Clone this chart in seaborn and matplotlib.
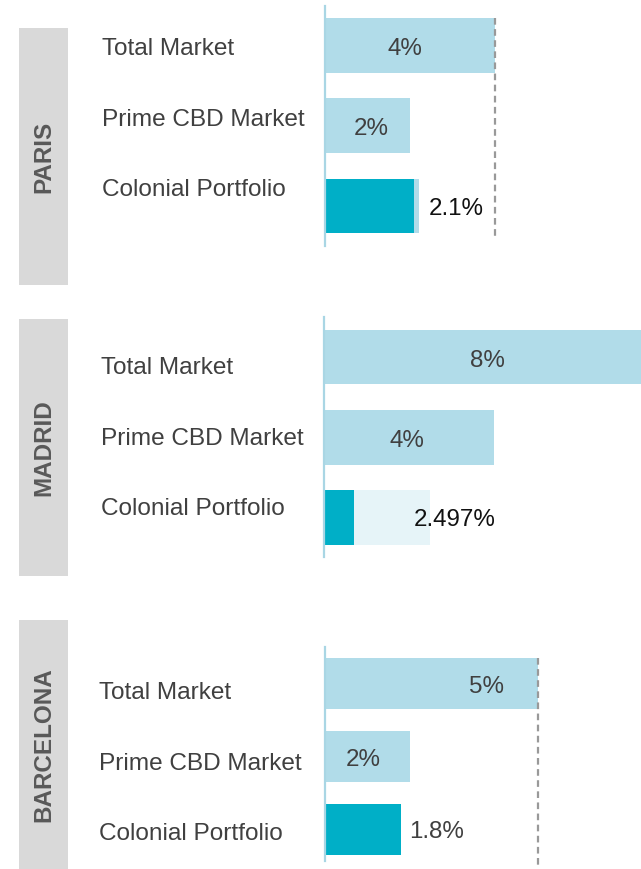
import matplotlib
matplotlib.use("Agg")
import matplotlib.pyplot as plt
from matplotlib.patches import Rectangle
import pandas as pd
import seaborn as sns

# ---- data -------------------------------------------------------------
cities = ["PARIS", "MADRID", "BARCELONA"]
segments = ["Total Market", "Prime CBD Market", "Colonial Portfolio"]

total_market = [4, 8, 5]              # vacancy, %
prime_cbd = [2, 4, 2]                 # vacancy, %
colonial = [2.1, 0.7, 1.8]            # solid Colonial bar, %
colonial_range = [2.2, 2.497, 0.0]    # pale bar behind the Colonial bar, %
colonial_label = [2.1, 2.497, 1.8]
colonial_fmt = ["{:.1f}%", "{:.3f}%", "{:.1f}%"]

# ---- style ------------------------------------------------------------
sns.set_theme(style="white")
plt.rcParams["font.family"] = ["Liberation Sans", "DejaVu Sans"]

LIGHT = "#b1dce9"
DARK = "#00afc7"
AXIS = "#a9d6e4"
BAND = "#d9d9d9"
TXT = "#404040"

W, H = 641, 869
SCALE = 42.5      # pixels per percentage point
FS_SEG = 17.6
FS_VAL = 17.4
FS_CITY = 17.5

fig = plt.figure(figsize=(W / 100, H / 100), dpi=100)
fig.patch.set_facecolor("white")

panels = [
    dict(band=(28, 285), ax=(325, 6, 246), centers=(45.5, 126.5, 206),
         label_x=102, label_y=(46, 117, 187), dash_end=240, show_dash=True,
         inner=(0.47, 0.55), col_dx=10, col_color="#111111", back=LIGHT),
    dict(band=(319, 576), ax=(324, 317, 557), centers=(357, 436.5, 517.5),
         label_x=101, label_y=(365, 436, 506), dash_end=None, show_dash=False,
         inner=(0.48, 0.49), col_dx=-16, col_color="#111111", back="#e6f4f8"),
    dict(band=(620, 869), ax=(325, 647, 861), centers=(683.5, 757, 829.5),
         label_x=99, label_y=(690, 761, 831), dash_end=869, show_dash=True,
         inner=(0.76, 0.45), col_dx=8, col_color=TXT, back=LIGHT),
]


def half_cap(fs):
    """Half the cap height, in pixels, for a font size in points."""
    return 0.358 * fs * 100 / 72


for i, (city, p) in enumerate(zip(cities, panels)):
    # grey side band with the city name
    y0, y1 = p["band"]
    fig.add_artist(Rectangle((19 / W, 1 - y1 / H), 49 / W, (y1 - y0) / H,
                             transform=fig.transFigure, color=BAND, lw=0))
    fig.text(43.5 / W, 1 - (y0 + y1) / 2 / H, city, rotation=90,
             ha="center", va="center", fontsize=FS_CITY, fontweight="bold",
             color="#595959")

    # segment names
    for seg, ly in zip(segments, p["label_y"]):
        fig.text(p["label_x"] / W, 1 - (ly + half_cap(FS_SEG)) / H, seg,
                 ha="left", va="baseline", fontsize=FS_SEG, color=TXT)

    # bar axes
    left, top, bottom = p["ax"]
    ax = fig.add_axes([left / W, 1 - bottom / H, (W - left) / W,
                       (bottom - top) / H])
    ax.set_facecolor("none")

    back_df = pd.DataFrame({"segment": segments,
                            "value": [0, 0, colonial_range[i]]})
    sns.barplot(data=back_df, x="value", y="segment", orient="h",
                color=p["back"], saturation=1, width=0.685, linewidth=0,
                ax=ax)

    main_df = pd.DataFrame({"segment": segments,
                            "value": [total_market[i], prime_cbd[i], colonial[i]]})
    sns.barplot(data=main_df, x="value", y="segment", hue="segment",
                palette={segments[0]: LIGHT, segments[1]: LIGHT,
                         segments[2]: DARK},
                saturation=1, orient="h", width=0.685, linewidth=0,
                legend=False, ax=ax)

    c = p["centers"]
    sp = (c[2] - c[0]) / 2
    ax.set_xlim(0, (W - left) / SCALE)
    ax.set_ylim(2 + (bottom - c[2]) / sp, -(c[0] - top) / sp)

    ax.set_xlabel("")
    ax.set_ylabel("")
    ax.set_xticks([])
    ax.set_yticks([])
    for side in ["top", "right", "bottom"]:
        ax.spines[side].set_visible(False)
    ax.spines["left"].set_color(AXIS)
    ax.spines["left"].set_linewidth(1.6)

    # total-market reference line
    if p["show_dash"]:
        y_end = (p["dash_end"] - c[0]) / sp
        ax.plot([total_market[i], total_market[i]], [-0.685 / 2, y_end],
                color="#999999", lw=1.6, ls=(0, (3, 2)), clip_on=False,
                zorder=5)

    # values inside the market bars
    for k, v in enumerate([total_market[i], prime_cbd[i]]):
        ax.annotate(f"{v:.0f}%", xy=(v * p["inner"][k], k),
                    xytext=(0, -half_cap(FS_VAL) - 1),
                    textcoords="offset pixels",
                    ha="center", va="baseline", fontsize=FS_VAL, color=TXT)

    # Colonial value next to its bar
    end = max(colonial[i], colonial_range[i])
    ax.annotate(colonial_fmt[i].format(colonial_label[i]), xy=(end, 2),
                xytext=(p["col_dx"], -half_cap(FS_VAL)),
                textcoords="offset pixels",
                ha="left", va="baseline", fontsize=FS_VAL, color=p["col_color"],
                zorder=6)

fig.savefig("out.png", dpi=100, facecolor="white")
